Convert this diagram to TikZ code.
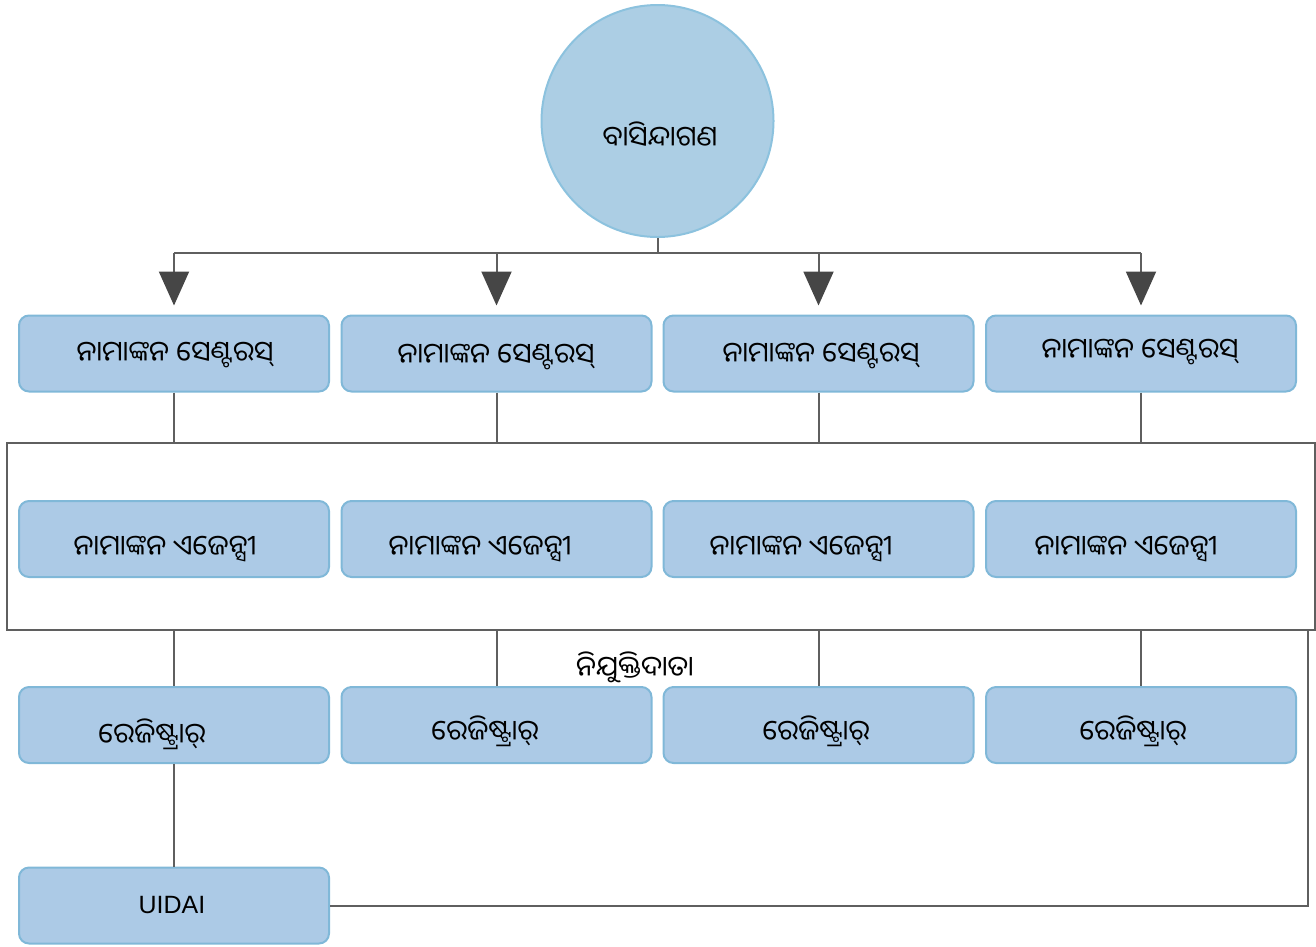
\documentclass[tikz,border=0pt]{standalone}
\usepackage{fontspec}
\setmainfont{Liberation Sans}
\newfontfamily\odia[Script=Oriya]{Noto Sans Oriya UI}
\usetikzlibrary{arrows.meta,calc}
\definecolor{boxfill}{RGB}{172,202,230}
\definecolor{boxedge}{RGB}{128,184,216}
\definecolor{circfill}{RGB}{172,206,228}
\definecolor{circedge}{RGB}{140,194,222}
\definecolor{linegray}{RGB}{95,95,95}
\definecolor{arrowgray}{RGB}{70,70,70}
\tikzset{
  blk/.style={draw=boxedge,fill=boxfill,line width=2pt,rounded corners=10pt,minimum width=310pt,minimum height=76pt,inner sep=0pt},
  lbl/.style={font=\odia\fontsize{28}{32}\selectfont,inner sep=0pt,anchor=center},
  conn/.style={draw=linegray,line width=2pt},
  arr/.style={conn,-{Triangle[length=34pt,width=30pt,fill=arrowgray,color=arrowgray]},shorten >=9pt},
}
\begin{document}
\begin{tikzpicture}[x=1pt,y=-1pt]
\useasboundingbox (0,0) rectangle (1316,946);
% big frame
\node[draw=linegray,line width=2pt,minimum width=1308pt,minimum height=187pt,inner sep=0pt] (frame) at (661,536.5) {};
% circle
\node[circle,draw=circedge,fill=circfill,line width=2pt,minimum size=232pt,inner sep=0pt] (res) at (657.5,121) {};
\node[lbl] (restxt) at (660,135) {ବାସିନ୍ଦାଗଣ};
% boxes
\foreach \i/\x in {1/174,2/496.5,3/818.5,4/1141}{
  \node[blk] (c\i) at (\x,353.5) {};
  \node[blk] (a\i) at (\x,539) {};
  \node[blk] (r\i) at (\x,725) {};
}
\node[blk] (u) at (174,905.5) {};
% texts
\node[lbl] at (175,355) {ନାମାଙ୍କନ ସେଣ୍ଟରସ୍};
\node[lbl] at (496,357) {ନାମାଙ୍କନ ସେଣ୍ଟରସ୍};
\node[lbl] at (821,356) {ନାମାଙ୍କନ ସେଣ୍ଟରସ୍};
\node[lbl] at (1140,352) {ନାମାଙ୍କନ ସେଣ୍ଟରସ୍};
\node[lbl] at (165,549) {ନାମାଙ୍କନ ଏଜେନ୍ସୀ};
\node[lbl] at (480,549) {ନାମାଙ୍କନ ଏଜେନ୍ସୀ};
\node[lbl] at (801,549) {ନାମାଙ୍କନ ଏଜେନ୍ସୀ};
\node[lbl] at (1126,549) {ନାମାଙ୍କନ ଏଜେନ୍ସୀ};
\node[lbl] at (152,734) {ରେଜିଷ୍ଟ୍ରାର୍};
\node[lbl] at (485,731) {ରେଜିଷ୍ଟ୍ରାର୍};
\node[lbl] at (816,731) {ରେଜିଷ୍ଟ୍ରାର୍};
\node[lbl] at (1133,731) {ରେଜିଷ୍ଟ୍ରାର୍};
\node[font=\fontsize{25}{30}\selectfont,inner sep=0pt] (utxt) at (172,905) {UIDAI};
\node[lbl] (emp) at (635,667) {ନିଯୁକ୍ତିଦାତା};
% connectors
\coordinate (bus) at (657.5,253);
\draw[conn] (res.south) -- (bus);
\draw[conn] (c1.north |- bus) -- (c4.north |- bus);
\foreach \i in {1,2,3,4}{
  \draw[arr] (c\i.north |- bus) -- (c\i.north);
  \draw[conn] (c\i.south) -- (c\i.south |- frame.north);
  \draw[conn] (r\i.north |- frame.south) -- (r\i.north);
}
\draw[conn] (r1.south) -- (u.north);
\coordinate (rt) at (1308,0);
\draw[conn] (u.east) -- (u.east -| rt) -- (rt |- frame.south);
\end{tikzpicture}
\end{document}
